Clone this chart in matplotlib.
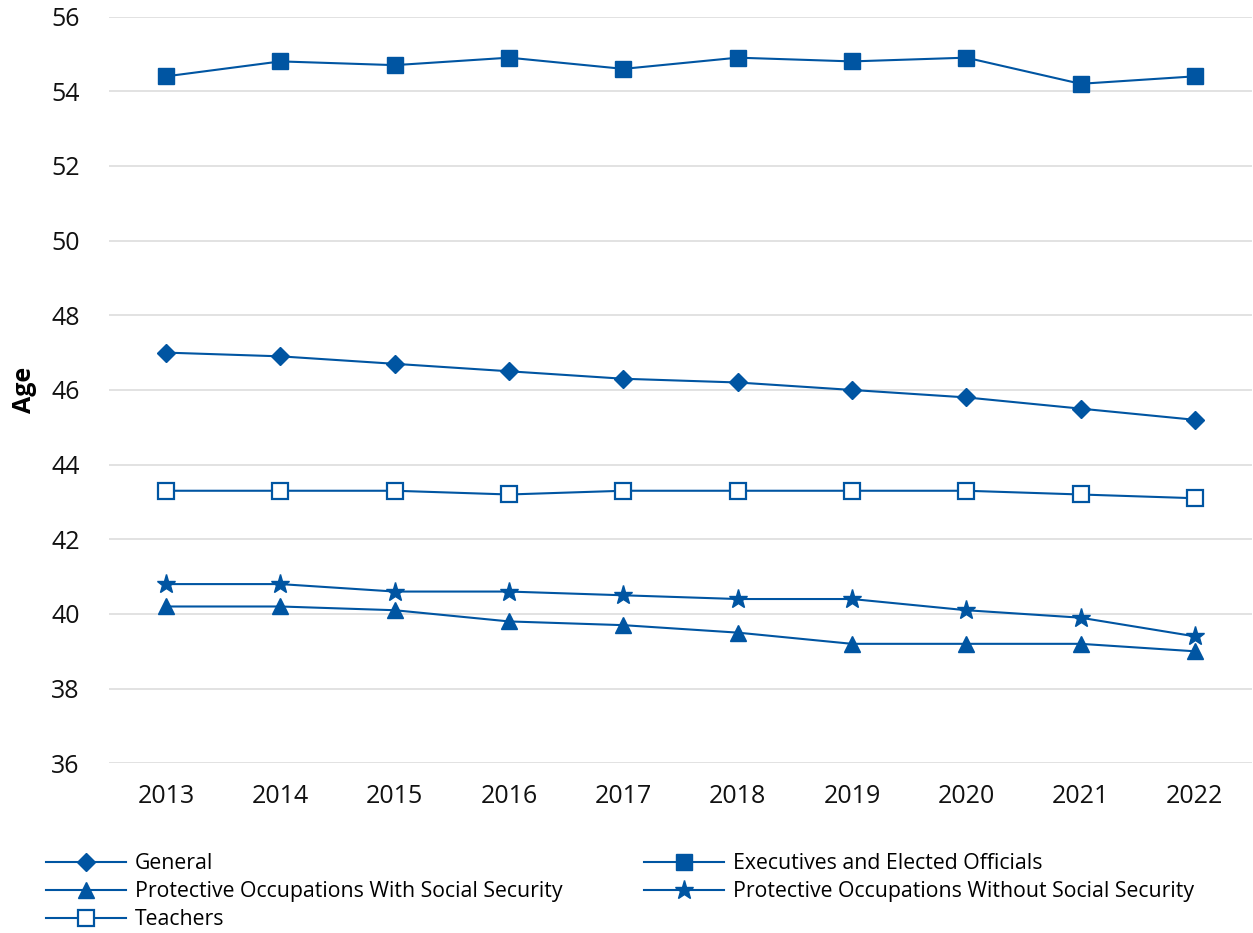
import matplotlib
matplotlib.use("Agg")
import matplotlib.pyplot as plt

years = ["2013", "2014", "2015", "2016", "2017", "2018", "2019", "2020", "2021", "2022"]
general = [47.0, 46.9, 46.7, 46.5, 46.3, 46.2, 46.0, 45.8, 45.5, 45.2]
executives = [54.4, 54.8, 54.7, 54.9, 54.6, 54.9, 54.8, 54.9, 54.2, 54.4]
protective_with_ss = [40.2, 40.2, 40.1, 39.8, 39.7, 39.5, 39.2, 39.2, 39.2, 39.0]
protective_without_ss = [40.8, 40.8, 40.6, 40.6, 40.5, 40.4, 40.4, 40.1, 39.9, 39.4]
teachers = [43.3, 43.3, 43.3, 43.2, 43.3, 43.3, 43.3, 43.3, 43.2, 43.1]
y_ticks = [36, 38, 40, 42, 44, 46, 48, 50, 52, 54, 56]

BLUE = "#0055A2"
plt.rcParams["font.family"] = ["Open Sans", "DejaVu Sans"]

W, H = 1253, 933
fig = plt.figure(figsize=(W / 100, H / 100), dpi=100)
ax = fig.add_axes([109 / W, 1 - 763.3 / H, (1252 - 109) / W, (763.3 - 16.6) / H])

x = list(range(len(years)))
lw = 1.5
h_gen, = ax.plot(x, general, color=BLUE, lw=lw, marker="D", ms=8.8, label="General")
h_exe, = ax.plot(x, executives, color=BLUE, lw=lw, marker="s", ms=11.3,
                 label="Executives and Elected Officials")
h_pw, = ax.plot(x, protective_with_ss, color=BLUE, lw=lw, marker="^", ms=11,
                label="Protective Occupations With Social Security")
h_pwo, = ax.plot(x, protective_without_ss, color=BLUE, lw=lw, marker="*", ms=14,
                 label="Protective Occupations Without Social Security")
h_tea, = ax.plot(x, teachers, color=BLUE, lw=lw, marker="s", ms=11, mfc="white",
                 mew=1.6, label="Teachers")

ax.set_xlim(-0.5, len(years) - 0.5)
ax.set_ylim(36, 56)
ax.set_yticks(y_ticks)
ax.set_xticks(x)
ax.set_xticklabels(years)
ax.tick_params(axis="both", length=0, labelsize=18, colors="#111111")
ax.tick_params(axis="x", pad=15)
ax.tick_params(axis="y", pad=21)
ax.grid(axis="y", color="#dddddd", lw=1.2)
ax.set_axisbelow(True)
for s in ax.spines.values():
    s.set_visible(False)
ax.set_ylabel("Age", fontsize=18, fontweight="bold", labelpad=10)

leg_kw = dict(frameon=False, fontsize=15.3, handlelength=3.75, handletextpad=0.45,
              labelspacing=0.33, borderpad=0, borderaxespad=0, loc="upper left")
fig.legend(handles=[h_gen, h_pw, h_tea], bbox_to_anchor=(46 / W, 1 - 853 / H), **leg_kw)
fig.legend(handles=[h_exe, h_pwo], bbox_to_anchor=(644 / W, 1 - 853 / H), **leg_kw)

fig.savefig("out.png", dpi=100)
